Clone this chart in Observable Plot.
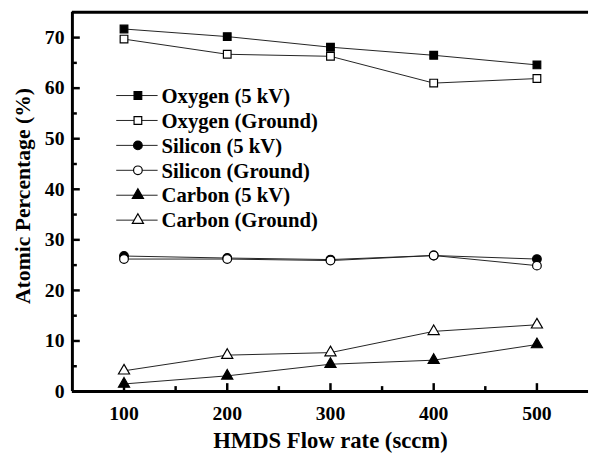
<!DOCTYPE html>
<html>
<head>
<meta charset="utf-8">
<script src="https://cdn.jsdelivr.net/npm/d3@7"></script>
<script src="https://cdn.jsdelivr.net/npm/@observablehq/plot@0.6"></script>
<style>
  html, body { margin: 0; padding: 0; background: #fff; overflow: hidden; }
  #wrap { width: 591px; height: 461px; overflow: hidden; }
  svg text { font-family: "Liberation Serif", "Times New Roman", serif; font-weight: bold; }
</style>
</head>
<body>
<div id="wrap"></div>
<script>
const flowRates = [100, 200, 300, 400, 500];
const oxygen5kV     = [71.7, 70.2, 68.1, 66.5, 64.6];
const oxygenGround  = [69.7, 66.7, 66.3, 61.0, 61.9];
const silicon5kV    = [26.8, 26.4, 26.1, 26.9, 26.2];
const siliconGround = [26.2, 26.2, 25.9, 26.9, 24.9];
const carbon5kV     = [1.5, 3.1, 5.4, 6.2, 9.3];
const carbonGround  = [4.1, 7.2, 7.7, 11.9, 13.2];

const seriesNames = ["Oxygen (5 kV)", "Oxygen (Ground)", "Silicon (5 kV)", "Silicon (Ground)", "Carbon (5 kV)", "Carbon (Ground)"];
const seriesValues = [oxygen5kV, oxygenGround, silicon5kV, siliconGround, carbon5kV, carbonGround];
const seriesSymbols = ["square", "square", "circle", "circle", "triangle", "triangle"];
const seriesFilled = [true, false, true, false, true, false];

const xTitle = "HMDS Flow rate (sccm)";
const yTitle = "Atomic Percentage (%)";
const xTicks = [100, 200, 300, 400, 500];
const xMinorTicks = [150, 250, 350, 450];
const yTicks = [0, 10, 20, 30, 40, 50, 60, 70];
const yMinorTicks = [5, 15, 25, 35, 45, 55, 65];

const rows = [];
seriesNames.forEach((name, i) => {
  flowRates.forEach((x, j) => rows.push({series: name, x, y: seriesValues[i][j]}));
});

const markerR = (s) => s === "triangle" ? 4.2 : 4.4;

const dotMarks = seriesNames.map((name, i) => Plot.dot(rows.filter(d => d.series === name), {
  x: "x", y: "y",
  symbol: () => seriesSymbols[i],
  r: markerR(seriesSymbols[i]),
  fill: seriesFilled[i] ? "#000" : "#fff",
  stroke: "#000",
  strokeWidth: 1.2
}));

const W = 600, H = 461;
const mL = 73, mT = 12, mB = 64, mR = 3;
const frameW = W - mL - mR, frameH = H - mT - mB;

const plot = Plot.plot({
  width: W,
  height: H,
  marginLeft: mL,
  marginTop: mT,
  marginBottom: mB,
  marginRight: mR,
  style: {fontFamily: "Liberation Serif, serif", fontSize: "20px", fontWeight: "bold", color: "#000", background: "#fff"},
  x: {domain: [50, 550]},
  y: {domain: [0, 75]},
  symbol: {domain: ["square", "circle", "triangle"], range: ["square", "circle", "triangle"]},
  marks: [
    Plot.line(rows, {x: "x", y: "y", z: "series", stroke: "#222", strokeWidth: 1}),
    ...dotMarks,
    Plot.axisY({ticks: yTicks, tickSize: 0, tickPadding: 8, label: null, fontSize: 20}),
    Plot.axisX({ticks: xTicks, tickSize: 0, tickPadding: 15, label: null, fontSize: 20}),
    // axis titles
    Plot.text([xTitle], {text: d => d, frameAnchor: "bottom", dy: 57, lineAnchor: "bottom", textAnchor: "middle", fontSize: 23, fontWeight: "bold", fill: "#000"}),
    Plot.text([yTitle], {text: d => d, frameAnchor: "left", dx: -50, dy: -6, rotate: -90, textAnchor: "middle", lineAnchor: "middle", fontSize: 22, fontWeight: "bold", fill: "#000"}),
    // inward ticks
    Plot.tickY(yTicks, {y: d => d, insetRight: frameW - 8, stroke: "#000", strokeWidth: 2.5}),
    Plot.tickY(yMinorTicks, {y: d => d, insetRight: frameW - 5, stroke: "#000", strokeWidth: 2.5}),
    Plot.tickX(xTicks, {x: d => d, insetTop: frameH - 8, stroke: "#000", strokeWidth: 2.5}),
    Plot.tickX(xMinorTicks, {x: d => d, insetTop: frameH - 5, stroke: "#000", strokeWidth: 2.5}),
    // frame lines
    Plot.ruleY([0], {stroke: "#000", strokeWidth: 3}),
    Plot.ruleY([75], {stroke: "#000", strokeWidth: 3}),
    Plot.ruleX([50], {stroke: "#000", strokeWidth: 3})
  ]
});

const svg = d3.select(plot);

// legend inside the frame
const lg = svg.append("g").attr("class", "legend");
const lx0 = mL + 45, lx1 = mL + 87, lmx = mL + 67, ly0 = mT + 85, lstep = 25.3;
seriesNames.forEach((name, i) => {
  const y = ly0 + i * lstep;
  lg.append("line").attr("x1", lx0).attr("x2", lx1).attr("y1", y).attr("y2", y)
    .attr("stroke", "#222").attr("stroke-width", 1);
  const sym = seriesSymbols[i] === "square" ? d3.symbolSquare : seriesSymbols[i] === "circle" ? d3.symbolCircle : d3.symbolTriangle;
  const r = markerR(seriesSymbols[i]);
  lg.append("path").attr("d", d3.symbol(sym, Math.PI * r * r)())
    .attr("transform", `translate(${lmx},${y})`)
    .attr("fill", seriesFilled[i] ? "#000" : "#fff")
    .attr("stroke", "#000").attr("stroke-width", 1.2);
  lg.append("text").attr("x", lx1 + 4).attr("y", y).attr("dy", "0.35em")
    .attr("text-anchor", "start")
    .attr("font-size", 21).attr("font-weight", "bold")
    .attr("font-family", "Liberation Serif, serif")
    .attr("fill", "#000")
    .text(name);
});

document.getElementById("wrap").appendChild(plot);
</script>
</body>
</html>
